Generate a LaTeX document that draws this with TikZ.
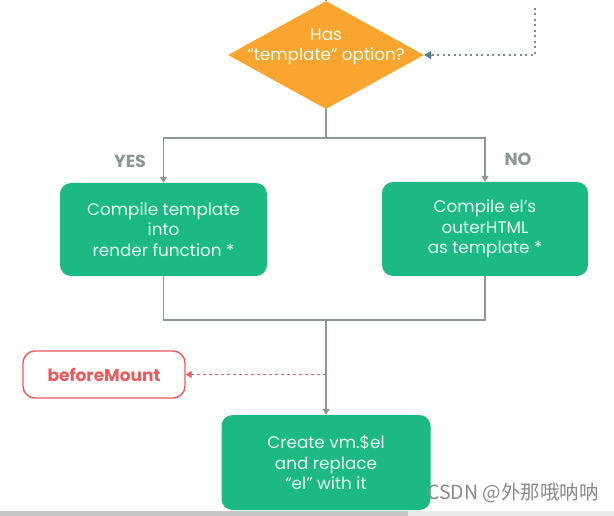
\documentclass[tikz,border=0pt]{standalone}
\usepackage{fontspec}
\setmainfont{Poppins}
\newfontfamily\cjk{Noto Sans CJK SC}
\usetikzlibrary{shapes.geometric,arrows.meta}
\definecolor{vorange}{HTML}{F9A52F}
\definecolor{vgreen}{HTML}{1DB982}
\definecolor{vmint}{HTML}{E4FFF3}
\definecolor{vgray}{HTML}{8C9896}
\definecolor{vdot}{HTML}{7F8C8B}
\definecolor{vteal}{HTML}{4F7F86}
\definecolor{vred}{HTML}{EE5A5C}
\definecolor{wmark}{HTML}{8A8A8A}
\begin{document}
\begin{tikzpicture}[x=1pt,y=-1pt,
  decision/.style={diamond,fill=vorange,draw=none,inner sep=0pt,minimum width=196pt,minimum height=108pt},
  boxtext/.style={text=vmint,align=center,font=\fontsize{16.8}{20.5}\selectfont},
  greenbox/.style={boxtext,fill=vgreen,draw=none,rounded corners=11pt,inner sep=0pt},
  redbox/.style={fill=white,draw=vred,line width=1.4pt,rounded corners=12pt,inner sep=0pt,minimum width=162pt,minimum height=47pt,text=vred,font=\fontsize{17}{18}\selectfont\bfseries},
  conn/.style={draw=vgray,line width=1.5pt},
  tip/.style={-{Triangle[width=7pt,length=6pt]}},
  lbl/.style={text=vgray,font=\fontsize{17.5}{18}\selectfont\bfseries}
]
\useasboundingbox (0,0) rectangle (614,516);
\fill[white] (0,0) rectangle (614,516);
\fill[black!8] (0,511) rectangle (614,516);
\fill[black!22] (0,511) rectangle (408,516);

% nodes
\node[decision] (q) at (326,55) {};
\node[boxtext] (qt) at (326,47) {Has\\“template” option?};
\node[greenbox,minimum width=207pt,minimum height=93pt] (a) at (163.5,229.5) {Compile template\\into\\render function *};
\node[greenbox,minimum width=206pt,minimum height=94pt] (b) at (485,229) {Compile el’s\\outerHTML\\as template *};
\node[greenbox,minimum width=209pt,minimum height=95pt] (c) at (326,462.5) {Create vm.\$el\\and replace\\“el” with it};
\node[redbox] (bm) at (104,374.5) {beforeMount};
\node[lbl] (yes) at (130,161) {YES};
\node[lbl] (no) at (518,159) {NO};
\node[text=wmark,font=\cjk\fontsize{19.5}{20}\selectfont,anchor=west,inner sep=0pt] (wm) at (427,493) {CSDN @外那哦呐呐};

% coordinates
\coordinate (topin) at (326,-2);
\coordinate (split) at (326,138);
\coordinate (join) at (326,320);
\coordinate (tap) at (326,374.5);
\coordinate (src) at (535,8);

% connectors
\draw[conn] (topin) -- (q.north);
\draw[conn] (q.south) -- (split);
\draw[conn,tip] (split) -| (a.north);
\draw[conn,tip] (split) -| (b.north);
\draw[conn] (a.south) |- (join);
\draw[conn] (b.south) |- (join);
\draw[conn,tip] (join) -- (c.north);
\draw[vred,line width=1.3pt,dash pattern=on 3pt off 3pt,-{Triangle[width=7pt,length=6pt]}] (tap) -- (bm.east);
\draw[vdot,line width=1.8pt,dash pattern=on 2pt off 3.5pt] (src) |- ([xshift=6pt]q.east);
\draw[vteal,{Triangle[width=8pt,length=7pt]}-] (q.east) -- ++(7,0);
\end{tikzpicture}
\end{document}
